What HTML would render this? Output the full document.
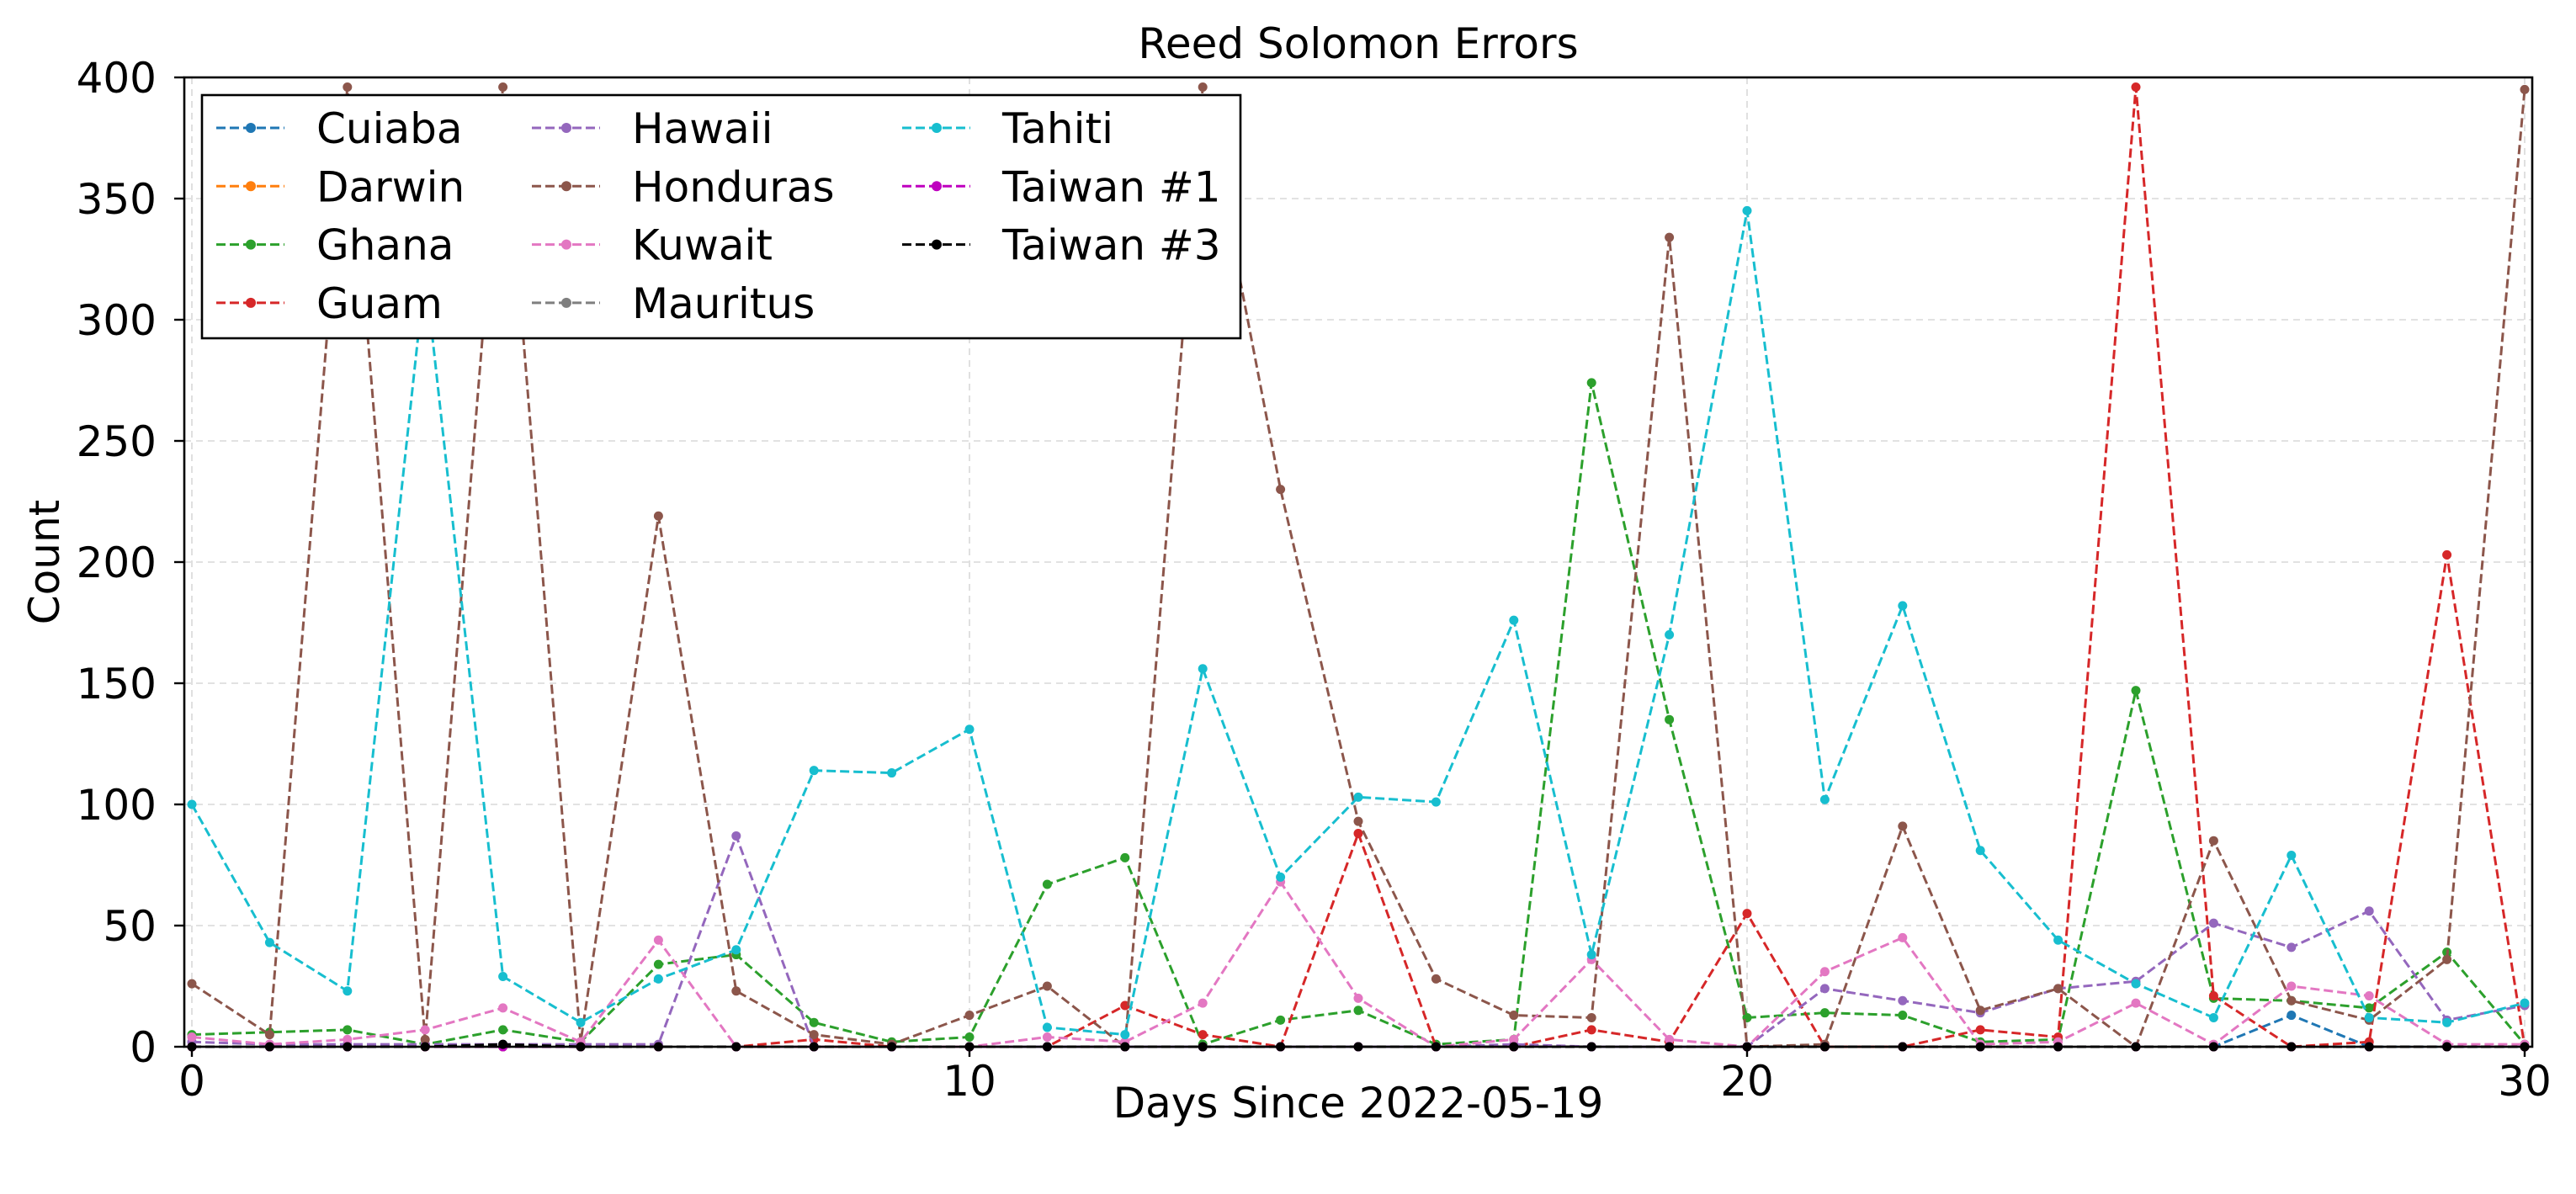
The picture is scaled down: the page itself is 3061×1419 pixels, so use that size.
<!DOCTYPE html>
<html><head><meta charset="utf-8"><style>
html,body{margin:0;padding:0;background:#fff}
svg{display:block;font-family:"DejaVu Sans","Liberation Sans",sans-serif}
</style></head><body>
<svg id="chart" width="3061" height="1419" viewBox="0 0 3061 1419" xmlns="http://www.w3.org/2000/svg">
<rect width="3061" height="1419" fill="#fff"/>
<g id="grid"></g>
<g id="series"></g>
<rect x="219" y="92" width="2790" height="1152" fill="none" stroke="#000" stroke-width="2.6"/>
<g id="ticks"></g>
<text x="1614" y="69" font-size="50" text-anchor="middle">Reed Solomon Errors</text>
<text x="1614" y="1328" font-size="50" text-anchor="middle">Days Since 2022-05-19</text>
<text x="0" y="0" font-size="50" text-anchor="middle" transform="translate(70,668) rotate(-90)">Count</text>
<g id="legend"></g>
</svg>
<script>
const days = Array.from({length:31},(_,i)=>i);
const names = ["Cuiaba","Darwin","Ghana","Guam","Hawaii","Honduras","Kuwait","Mauritus","Tahiti","Taiwan #1","Taiwan #3"];
const colors = ["#1f77b4","#ff7f0e","#2ca02c","#d62728","#9467bd","#8c564b","#e377c2","#7f7f7f","#17becf","#bf00bf","#000000"];
const cuiaba = [0,0,0,0,0,0,0,0,0,0,0,0,0,0,0,0,0,0,0,0,0,0,0,0,0,0,0,13,0,0,0];
const darwin = [0,0,0,0,0,0,0,0,0,0,0,0,0,0,0,0,0,0,0,0,0,0,0,0,0,0,0,0,0,0,0];
const ghana = [5,6,7,1,7,2,34,38,10,2,4,67,78,1,11,15,1,3,274,135,12,14,13,2,3,147,20,19,16,39,1];
const guam = [0,0,0,0,0,0,0,0,3,0,0,0,17,5,0,88,0,0,7,2,55,0,0,7,4,396,21,0,2,203,0];
const hawaii = [2,1,1,1,1,1,1,87,0,0,0,0,0,0,0,0,0,1,0,0,0,24,19,14,24,27,51,41,56,11,17];
const honduras = [26,5,396,3,396,2,219,23,5,1,13,25,0,396,230,93,28,13,12,334,0,1,91,15,24,0,85,19,11,36,395];
const kuwait = [4,1,3,7,16,2,44,0,0,0,0,4,2,18,68,20,0,3,36,3,0,31,45,1,2,18,1,25,21,1,1];
const mauritus = [0,0,0,0,0,0,0,0,0,0,0,0,0,0,0,0,0,0,0,0,0,0,0,0,0,0,0,0,0,0,0];
const tahiti = [100,43,23,320,29,10,28,40,114,113,131,8,5,156,70,103,101,176,38,170,345,102,182,81,44,26,12,79,12,10,18];
const taiwan1 = [0,0,0,0,0,0,0,0,0,0,0,0,0,0,0,0,0,0,0,0,0,0,0,0,0,0,0,0,0,0,0];
const taiwan3 = [0,0,0,0,1,0,0,0,0,0,0,0,0,0,0,0,0,0,0,0,0,0,0,0,0,0,0,0,0,0,0];
const seriesData = [cuiaba,darwin,ghana,guam,hawaii,honduras,kuwait,mauritus,tahiti,taiwan1,taiwan3];
const xTicks = [0,10,20,30];
const yTicks = [0,50,100,150,200,250,300,350,400];

const NS="http://www.w3.org/2000/svg";
const X0=228,X1=3000,YT=92,YB=1244,FL=219,FR=3009;
const xs=d=>X0+(d-0)/(30-0)*(X1-X0);
const ys=v=>YB-(v/400)*(YB-YT);
function mk(tag,attrs,parent){const e=document.createElementNS(NS,tag);for(const k in attrs)e.setAttribute(k,attrs[k]);parent.appendChild(e);return e;}
const grid=document.getElementById('grid'),ticks=document.getElementById('ticks'),ser=document.getElementById('series'),leg=document.getElementById('legend');
xTicks.forEach(t=>{
  const l=mk('line',{x1:xs(t),x2:xs(t),y1:YT,y2:YB,stroke:'#d9d9d9','stroke-dasharray':'8,6','stroke-width':1.6},grid);
  
  
  mk('line',{x1:xs(t),x2:xs(t),y1:YB,y2:YB+12,stroke:'#000','stroke-width':2.4},ticks);
  const tx=mk('text',{x:xs(t),y:YB+58,'font-size':50,'text-anchor':'middle'},ticks);
  tx.textContent=t;
  
  
});
yTicks.forEach(t=>{
  const l=mk('line',{x1:FL,x2:FR,y1:ys(t),y2:ys(t),stroke:'#d9d9d9','stroke-dasharray':'8,6','stroke-width':1.6},grid);
  
  
  mk('line',{x1:FL-12,x2:FL,y1:ys(t),y2:ys(t),stroke:'#000','stroke-width':2.4},ticks);
  const tx=mk('text',{x:186,y:ys(t)+18,'font-size':50,'text-anchor':'end'},ticks);
  tx.textContent=t;
  
  
});
const clip=mk('clipPath',{id:'pc'},document.getElementById('chart'));
mk('rect',{x:FL,y:YT,width:FR-FL,height:YB-YT+8},clip);
ser.setAttribute('clip-path','url(#pc)');
seriesData.forEach((arr,i)=>{
  const g=mk('g',{},ser);
  
  
  const pts=arr.map((v,j)=>xs(days[j])+','+ys(v)).join(' ');
  mk('polyline',{points:pts,fill:'none',stroke:colors[i],'stroke-width':3,'stroke-dasharray':'11,5'},g);
  arr.forEach((v,j)=>{
    const c=mk('circle',{cx:xs(days[j]),cy:ys(v),r:5.5,fill:colors[i]},g);
    
    
  });
});
mk('rect',{x:240,y:113,width:1234,height:289,fill:'#fff',stroke:'#000','stroke-width':2.6},leg);
const colX=[257,632,1072];
names.forEach((n,i)=>{
  const c=Math.floor(i/4),r=i%4;
  const x=colX[c],y=152+r*69.3;
  const g=mk('g',{},leg);
  
  
  mk('line',{x1:x,x2:x+81,y1:y,y2:y,stroke:colors[i],'stroke-width':3,'stroke-dasharray':'11,5'},g);
  mk('circle',{cx:x+41,cy:y,r:6,fill:colors[i]},g);
  const t=mk('text',{x:x+119,y:y+18,'font-size':50},g);
  t.textContent=n;
});
</script>
</body></html>
